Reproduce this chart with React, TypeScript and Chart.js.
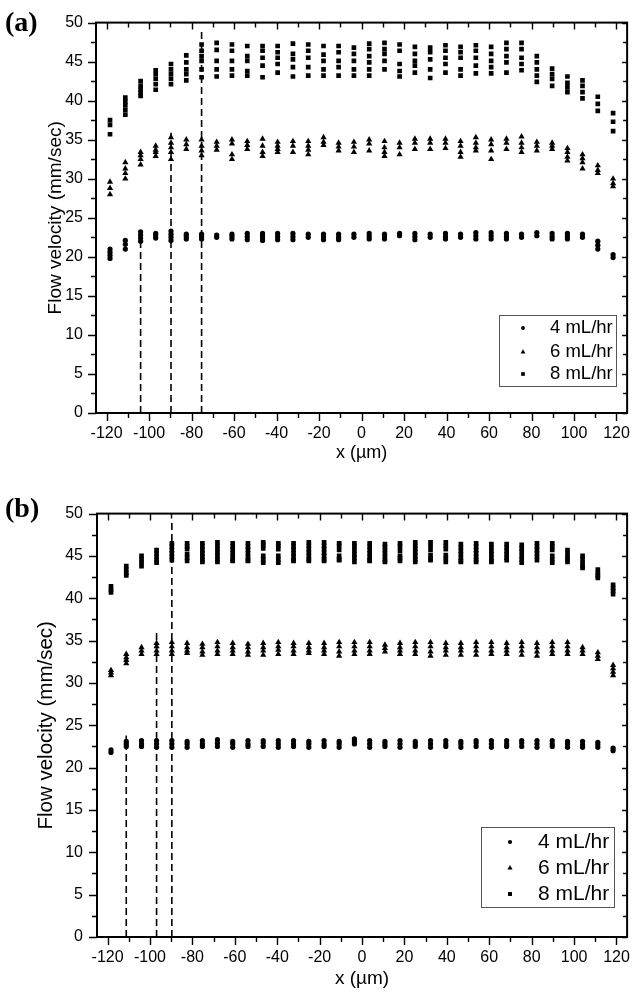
import React, { useEffect, useRef } from 'react';
import { Chart, registerables } from 'chart.js';

Chart.register(...registerables);

const FONT = '"Liberation Sans", Arial, Helvetica, sans-serif';

// x positions (µm) of the measurement columns
const xPositions = [
  -118.4, -111.2, -104.0, -96.9, -89.7, -82.5, -75.3, -68.2, -61.0, -53.8, -46.6, -39.5,
  -32.3, -25.1, -17.9, -10.8, -3.6, 3.6, 10.8, 17.9, 25.1, 32.3, 39.5, 46.6,
  53.8, 61.0, 68.2, 75.3, 82.5, 89.7, 96.9, 104.0, 111.2, 118.4,
];

const seriesLabels = ['4 mL/hr', '6 mL/hr', '8 mL/hr'];
const seriesStyles = ['circle', 'triangle', 'rect'];

const xTickLabels = [-120, -100, -80, -60, -40, -20, 0, 20, 40, 60, 80, 100, 120];
const xAllTicks = [-120, -110, -100, -90, -80, -70, -60, -50, -40, -30, -20, -10, 0, 10, 20, 30, 40, 50, 60, 70, 80, 90, 100, 110, 120];
const yTickLabels = [0, 5, 10, 15, 20, 25, 30, 35, 40, 45, 50];
const yAllTicks = [0, 2.5, 5, 7.5, 10, 12.5, 15, 17.5, 20, 22.5, 25, 27.5, 30, 32.5, 35, 37.5, 40, 42.5, 45, 47.5, 50];

// ---------- Panel (a) ----------
const a4: number[][] = [
  [21.0, 20.6, 20.2, 19.8], [22.1, 21.6, 21.0], [23.2, 22.8, 22.4, 22.0], [23.0, 22.7, 22.4],
  [23.3, 22.9, 22.5, 22.1], [22.9, 22.6, 22.3], [22.9, 22.6, 22.3], [22.8, 22.5],
  [22.9, 22.6, 22.3], [23.0, 22.6, 22.2], [23.0, 22.7, 22.4, 22.1], [23.0, 22.6, 22.2],
  [23.0, 22.6, 22.2], [22.9, 22.5], [22.9, 22.6, 22.2], [22.9, 22.5, 22.2],
  [22.9, 22.5], [23.0, 22.6, 22.3], [22.9, 22.6, 22.3], [23.0, 22.7],
  [23.0, 22.6, 22.2], [22.9, 22.5], [23.0, 22.6, 22.3], [22.9, 22.5],
  [23.1, 22.7, 22.3], [23.1, 22.7, 22.3], [23.0, 22.6, 22.3], [22.9, 22.5],
  [23.1, 22.7], [23.0, 22.6, 22.3], [23.0, 22.6, 22.3], [22.9, 22.5],
  [22.0, 21.5, 21.0], [20.3, 19.9],
];
const a6: number[][] = [
  [29.6, 28.8, 28.0], [32.1, 31.3, 30.7, 30.0], [33.4, 33.0, 32.5, 31.8], [34.2, 33.7, 33.4, 32.9],
  [35.3, 34.6, 34.0, 33.4, 32.5], [35.0, 34.4, 33.8], [35.0, 34.2, 33.6, 33.0], [34.7, 34.2, 33.7],
  [35.0, 34.5, 33.1, 32.5], [34.8, 34.3, 33.8], [35.1, 34.2, 33.4, 32.9], [34.7, 34.2, 33.8, 33.4],
  [34.8, 34.2, 33.4], [34.8, 34.2, 33.7, 33.1], [35.3, 34.7, 34.3], [34.6, 34.1, 33.6],
  [34.7, 34.1, 33.4], [35.0, 34.5, 33.6], [34.8, 34.0, 33.4, 32.9], [34.6, 34.0, 33.1],
  [35.1, 34.6, 33.8], [35.1, 34.6, 33.8], [35.1, 34.6, 33.9], [34.8, 34.2, 33.4, 32.8],
  [35.3, 34.6, 34.0, 33.6], [35.0, 34.4, 33.6, 32.5], [35.1, 34.6, 33.8], [35.4, 34.6, 34.0, 33.4],
  [34.7, 34.2, 33.6], [34.6, 34.2, 33.8], [33.9, 33.4, 32.8, 32.3], [33.1, 32.6, 32.1, 31.3],
  [31.7, 31.1, 30.7], [30.0, 29.4, 29.0],
];
const a8: number[][] = [
  [37.5, 36.9, 35.7], [40.4, 39.9, 39.4, 38.8, 38.2], [42.5, 41.9, 41.4, 41.0, 40.6], [43.9, 43.4, 42.8, 42.1, 41.4],
  [44.7, 44.0, 43.4, 42.8, 42.1], [45.8, 44.9, 44.0, 43.4, 42.6], [47.2, 46.4, 45.7, 45.1, 44.0, 43.0], [47.4, 46.5, 45.1, 44.0, 43.1],
  [47.2, 46.4, 45.1, 44.0, 43.2], [47.0, 45.7, 45.1, 43.8, 43.2], [47.0, 46.4, 45.5, 44.5, 43.0], [47.0, 46.2, 45.5, 44.7, 43.6],
  [47.3, 46.0, 45.3, 44.3, 43.1], [47.2, 46.4, 45.5, 44.3, 43.2], [47.0, 45.9, 45.1, 44.0, 43.2], [47.0, 46.2, 45.1, 44.3, 43.2],
  [46.8, 46.0, 45.1, 44.0, 43.2], [47.3, 46.6, 45.7, 44.9, 44.0, 43.2], [47.4, 46.6, 46.0, 45.1, 44.0], [47.2, 46.4, 44.7, 43.8, 43.1],
  [46.9, 46.0, 45.1, 44.5, 43.6], [46.8, 46.2, 45.3, 44.0, 42.9], [47.1, 46.4, 45.5, 44.7, 43.6], [46.9, 46.2, 45.5, 44.0, 43.2],
  [47.1, 46.4, 45.5, 44.5, 43.5], [46.9, 46.0, 45.1, 44.3, 43.5], [47.4, 46.6, 45.7, 44.9, 43.6], [47.4, 46.6, 45.5, 44.7, 43.9],
  [45.7, 44.9, 44.0, 43.2, 42.4], [44.1, 43.4, 42.8, 41.9], [43.1, 42.3, 41.7, 41.1], [42.6, 41.9, 41.1, 40.3],
  [40.5, 39.6, 38.7], [38.4, 37.3, 36.1],
];
const aDashX = [-104.0, -89.7, -75.3];
const aDashTop = [23.8, 35.9, 48.9];

// ---------- Panel (b) ----------
const b4: number[][] = [
  [22.1, 21.8], [23.1, 22.8, 22.5], [23.2, 22.8, 22.5], [23.2, 22.8, 22.4],
  [23.2, 22.8, 22.4], [23.1, 22.8, 22.4], [23.2, 22.8, 22.5], [23.3, 22.9, 22.5],
  [23.1, 22.8, 22.4], [23.2, 22.8, 22.5], [23.2, 22.9, 22.5], [23.2, 22.8, 22.4],
  [23.2, 22.8, 22.5], [23.1, 22.8, 22.4], [23.2, 22.8, 22.5], [23.1, 22.8, 22.4],
  [23.4, 23.1, 22.8], [23.2, 22.8, 22.4], [23.1, 22.8, 22.5], [23.2, 22.8, 22.4],
  [23.1, 22.8, 22.5], [23.2, 22.8, 22.4], [23.2, 22.8, 22.5], [23.1, 22.8, 22.4],
  [23.2, 22.9, 22.5], [23.2, 22.8, 22.4], [23.2, 22.8, 22.5], [23.2, 22.9, 22.5],
  [23.2, 22.8, 22.4], [23.2, 22.8, 22.5], [23.1, 22.8, 22.4], [23.1, 22.7, 22.4],
  [23.0, 22.7, 22.4], [22.3, 22.0],
];
const b6: number[][] = [
  [31.5, 31.2, 30.9], [33.4, 33.0, 32.7, 32.3], [34.2, 33.8, 33.4], [34.7, 34.3, 33.8, 33.4],
  [34.8, 34.3, 33.8, 33.4], [34.7, 34.2, 33.8, 33.5], [34.6, 34.2, 33.7, 33.3], [34.8, 34.3, 33.8, 33.4],
  [34.7, 34.2, 33.8, 33.4], [34.6, 34.2, 33.7, 33.3], [34.7, 34.2, 33.8, 33.3], [34.8, 34.3, 33.9, 33.4],
  [34.7, 34.3, 33.8, 33.4], [34.7, 34.2, 33.8, 33.5], [34.7, 34.2, 33.8, 33.4], [34.8, 34.3, 33.7, 33.2],
  [34.8, 34.3, 33.8, 33.4], [34.8, 34.3, 33.8, 33.4], [34.5, 34.1, 33.7], [34.7, 34.2, 33.8, 33.4],
  [34.8, 34.3, 33.8, 33.4], [34.8, 34.3, 33.7, 33.2], [34.7, 34.2, 33.8, 33.3], [34.7, 34.2, 33.8, 33.3],
  [34.8, 34.3, 33.8, 33.3], [34.8, 34.3, 33.8, 33.4], [34.7, 34.2, 33.8, 33.4], [34.8, 34.3, 33.8, 33.3],
  [34.7, 34.2, 33.7, 33.2], [34.8, 34.3, 33.8, 33.4], [34.8, 34.3, 33.8, 33.4], [34.2, 33.8, 33.4],
  [33.6, 33.2, 32.8], [32.1, 31.7, 31.3, 30.9],
];
const b8: number[][] = [
  [41.4, 41.0, 40.7], [43.8, 43.4, 43.0, 42.7], [45.0, 44.6, 44.2, 43.8], [45.7, 45.3, 44.9, 44.5, 44.2],
  [46.5, 46.1, 45.7, 45.3, 44.9, 44.5], [46.5, 46.1, 45.8, 45.2, 44.8, 44.4], [46.5, 46.1, 45.7, 45.3, 44.9, 44.5, 44.3], [46.6, 46.2, 45.8, 45.4, 45.0, 44.6, 44.3],
  [46.5, 46.1, 45.7, 45.3, 44.9, 44.5, 44.4], [46.5, 46.1, 45.7, 45.3, 44.9, 44.5, 44.4], [46.6, 46.3, 45.9, 45.0, 44.6, 44.2], [46.5, 46.2, 45.8, 45.0, 44.6, 44.2],
  [46.5, 46.1, 45.7, 45.3, 44.9, 44.5, 44.4], [46.6, 46.2, 45.8, 45.4, 45.0, 44.6, 44.4], [46.6, 46.2, 45.8, 45.4, 45.0, 44.6, 44.4], [46.5, 46.2, 45.7, 45.0, 44.6, 44.5],
  [46.5, 46.1, 45.7, 45.2, 44.8, 44.3], [46.5, 46.1, 45.7, 45.3, 44.9, 44.5, 44.4], [46.4, 46.1, 45.7, 45.3, 44.9, 44.5, 44.3], [46.5, 46.1, 45.6, 45.0, 44.7, 44.4],
  [46.6, 46.2, 45.8, 45.4, 45.0, 44.6, 44.3], [46.6, 46.2, 45.7, 45.1, 44.7, 44.5], [46.6, 46.2, 45.8, 45.1, 44.7, 44.3], [46.4, 46.0, 45.6, 45.2, 44.8, 44.4, 44.3],
  [46.5, 46.1, 45.7, 45.3, 44.9, 44.5, 44.3], [46.4, 46.0, 45.6, 45.2, 44.8, 44.4, 44.3], [46.4, 46.0, 45.6, 45.2, 44.8, 44.5], [46.3, 45.9, 45.5, 45.0, 44.6, 44.2],
  [46.5, 46.1, 45.7, 45.3, 44.9, 44.5], [46.5, 46.1, 45.7, 45.0, 44.6, 44.2], [45.7, 45.3, 44.9, 44.6, 44.3], [45.0, 44.6, 44.2, 43.8, 43.6],
  [43.4, 43.0, 42.7, 42.4], [41.6, 41.2, 40.9, 40.5],
];
const bDashX = [-111.2, -96.9, -89.7];
const bDashTop = [23.8, 36.2, 49.3];

type LegendCfg = { x: number; y: number; w: number; h: number; markerX: number; textX: number; rows: number[]; size: number; mr: number[] };
type PanelCfg = {
  c4: number[][]; c6: number[][]; c8: number[][];
  dashX: number[]; dashTop: number[];
  height: number; padTop: number; xAxisH: number; yAxisW: number;
  yTitlePad: number; yTitleSize: number; xTitlePad: number; xTitleSize: number;
  yTickPad: number; xTickPad: number; markerR: number[];
  legend: LegendCfg;
};

const toPoints = (cols: number[][]) =>
  cols.flatMap((vals, i) => vals.map((v) => ({ x: xPositions[i], y: v })));

function drawMarker(ctx: CanvasRenderingContext2D, style: string, x: number, y: number, r: number) {
  ctx.beginPath();
  if (style === 'circle') {
    ctx.arc(x, y, r, 0, Math.PI * 2);
  } else if (style === 'triangle') {
    const w = r * Math.sqrt(3) / 2;
    ctx.moveTo(x, y - r);
    ctx.lineTo(x + w, y + r / 2);
    ctx.lineTo(x - w, y + r / 2);
    ctx.closePath();
  } else {
    const s = r * Math.SQRT1_2;
    ctx.rect(x - s, y - s, 2 * s, 2 * s);
  }
  ctx.fill();
}

function makeFramePlugin(cfg: PanelCfg) {
  return {
    id: 'frameTicksLegend',
    afterDatasetsDraw(chart: any) {
      const { ctx, chartArea: ca, scales } = chart;
      const xs = scales.x;
      const ys = scales.y;
      ctx.save();
      ctx.strokeStyle = '#000';
      ctx.lineWidth = 1.4;
      ctx.beginPath();
      for (const v of xAllTicks) {
        const px = Math.round(xs.getPixelForValue(v)) + 0.5;
        const major = xTickLabels.includes(v);
        ctx.moveTo(px, ca.bottom);
        ctx.lineTo(px, ca.bottom + (major ? 8 : 5));
        ctx.moveTo(px, ca.top);
        ctx.lineTo(px, ca.top + (major ? 7 : 5));
      }
      for (const v of yAllTicks) {
        const py = Math.round(ys.getPixelForValue(v)) + 0.5;
        const major = yTickLabels.includes(v);
        ctx.moveTo(ca.left, py);
        ctx.lineTo(ca.left - (major ? 8 : 5), py);
        ctx.moveTo(ca.right, py);
        ctx.lineTo(ca.right - (major ? 5 : 4), py);
      }
      ctx.stroke();
      ctx.lineWidth = 2;
      ctx.strokeRect(ca.left, ca.top, ca.right - ca.left, ca.bottom - ca.top);

      // legend
      const L = cfg.legend;
      ctx.fillStyle = '#fff';
      ctx.fillRect(L.x, L.y, L.w, L.h);
      ctx.strokeStyle = '#555';
      ctx.lineWidth = 1;
      ctx.strokeRect(L.x + 0.5, L.y + 0.5, L.w, L.h);
      ctx.fillStyle = '#000';
      ctx.font = `${L.size}px ${FONT}`;
      ctx.textBaseline = 'middle';
      ctx.textAlign = 'left';
      seriesLabels.forEach((lab, i) => {
        drawMarker(ctx, seriesStyles[i], L.markerX, L.rows[i], L.mr[i]);
        ctx.fillText(lab, L.textX, L.rows[i]);
      });
      ctx.restore();
    },
  };
}

function buildConfig(cfg: PanelCfg): any {
  const scatter = [cfg.c4, cfg.c6, cfg.c8].map((cols, i) => ({
    type: 'scatter',
    label: seriesLabels[i],
    data: toPoints(cols),
    pointStyle: seriesStyles[i],
    pointRadius: cfg.markerR[i],
    backgroundColor: '#000',
    borderWidth: 0,
    showLine: false,
  }));
  const dashed = cfg.dashX.map((x, i) => ({
    type: 'line',
    label: 'dash' + i,
    data: [{ x, y: 0 }, { x, y: cfg.dashTop[i] }],
    borderColor: '#000',
    borderWidth: 1.6,
    borderDash: [7, 4],
    pointRadius: 0,
    showLine: true,
    fill: false,
  }));
  return {
    type: 'scatter',
    data: { datasets: [...dashed, ...scatter] },
    options: {
      responsive: false,
      animation: false,
      events: [],
      layout: { padding: { left: 0, right: 8, top: cfg.padTop, bottom: 0 } },
      plugins: { legend: { display: false }, tooltip: { enabled: false } },
      scales: {
        x: {
          type: 'linear',
          min: -125,
          max: 125,
          afterBuildTicks: (s: any) => { s.ticks = xTickLabels.map((v) => ({ value: v })); },
          afterFit: (s: any) => { s.height = cfg.xAxisH; },
          grid: { display: false, drawTicks: false },
          border: { display: false },
          ticks: { color: '#000', font: { family: FONT, size: 16 }, padding: cfg.xTickPad, maxRotation: 0, autoSkip: false },
          title: { display: true, text: 'x (µm)', color: '#000', font: { family: FONT, size: cfg.xTitleSize }, padding: { top: 0, bottom: cfg.xTitlePad } },
        },
        y: {
          type: 'linear',
          min: 0,
          max: 50,
          afterBuildTicks: (s: any) => { s.ticks = yTickLabels.map((v) => ({ value: v })); },
          afterFit: (s: any) => { s.width = cfg.yAxisW; },
          grid: { display: false, drawTicks: false },
          border: { display: false },
          ticks: { color: '#000', font: { family: FONT, size: 16 }, padding: cfg.yTickPad, autoSkip: false },
          title: { display: true, text: 'Flow velocity (mm/sec)', color: '#000', font: { family: FONT, size: cfg.yTitleSize }, padding: { top: cfg.yTitlePad, bottom: 0 } },
        },
      },
    },
    plugins: [makeFramePlugin(cfg)],
  };
}

const panelA: PanelCfg = {
  c4: a4, c6: a6, c8: a8, dashX: aDashX, dashTop: aDashTop,
  height: 490, padTop: 14, xAxisH: 77, yAxisW: 96,
  yTitlePad: 44, yTitleSize: 19, xTitlePad: 26, xTitleSize: 18,
  yTickPad: 13, xTickPad: 11, markerR: [2.6, 3.6, 3.3],
  legend: { x: 499, y: 315, w: 117, h: 71, markerX: 523, textX: 550, rows: [328, 352, 374], size: 18.5, mr: [1.9, 2.8, 2.6] },
};
const panelB: PanelCfg = {
  c4: b4, c6: b6, c8: b8, dashX: bDashX, dashTop: bDashTop,
  height: 512, padTop: 12, xAxisH: 65, yAxisW: 97,
  yTitlePad: 34, yTitleSize: 20.5, xTitlePad: 12, xTitleSize: 19,
  yTickPad: 14, xTickPad: 11, markerR: [2.6, 3.6, 3.3],
  legend: { x: 481, y: 337, w: 133, h: 80, markerX: 510, textX: 538, rows: [352, 378, 404], size: 21, mr: [2.1, 3.0, 2.8] },
};

function Panel({ cfg, top }: { cfg: PanelCfg; top: number }) {
  const ref = useRef<HTMLCanvasElement | null>(null);
  useEffect(() => {
    if (!ref.current) return;
    const chart = new Chart(ref.current, buildConfig(cfg));
    return () => chart.destroy();
  }, [cfg]);
  return (
    <canvas
      ref={ref}
      width={641}
      height={cfg.height}
      style={{ position: 'absolute', left: 0, top, width: 641, height: cfg.height, display: 'block' }}
    />
  );
}

const panelLabelStyle: React.CSSProperties = {
  position: 'absolute',
  left: 5,
  fontFamily: '"Liberation Serif", "Times New Roman", serif',
  fontWeight: 'bold',
  fontSize: 28,
  lineHeight: '28px',
  color: '#000',
};

export default function App() {
  return (
    <div style={{ position: 'absolute', left: 0, top: 0, width: 641, height: 1002, background: '#fff', overflow: 'hidden' }}>
      <Panel cfg={panelA} top={0} />
      <Panel cfg={panelB} top={490} />
      <div style={{ ...panelLabelStyle, top: 8 }}>(a)</div>
      <div style={{ ...panelLabelStyle, top: 494 }}>(b)</div>
    </div>
  );
}
